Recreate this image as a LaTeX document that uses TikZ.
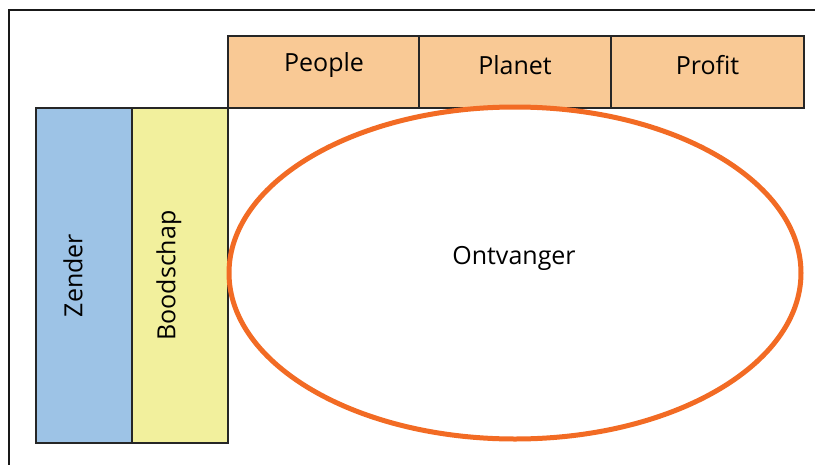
\documentclass[tikz,border=0pt]{standalone}
\usepackage{fontspec}
\setmainfont{Open Sans}
\begin{document}
\begin{tikzpicture}[x=1pt,y=-1pt,
  cell/.style={draw=black!85, line width=2pt, minimum width=#1, inner sep=0pt, anchor=north west},
  hcell/.style={cell=192pt, minimum height=72pt, fill=topfill},
  vcell/.style={draw=black!85, line width=2pt, inner sep=0pt, anchor=north west, minimum width=96pt, minimum height=335pt},
  lbl/.style={font=\fontsize{25}{30}\selectfont}]
\definecolor{topfill}{HTML}{F9C995}
\definecolor{blufill}{HTML}{9DC3E6}
\definecolor{yelfill}{HTML}{F2F09D}
\definecolor{ringcol}{HTML}{F26B24}
\useasboundingbox (0,0) rectangle (815,464);
% outer frame, only its top and left sides fall inside the page
\draw[line width=1.8pt, black!90] (9,470) -- (9,10) -- (820,10);
% the three top cells
\node[hcell] (people) at (227,35) {};
\node[hcell] (planet) at (418,35) {};
\node[hcell, minimum width=193pt] (profit) at (610,35) {};
\node[lbl] (tpeople) at ([yshift=7pt]people.center) {People};
\node[lbl] (tplanet) at ([yshift=7pt]planet.center) {Planet};
\node[lbl] (tprofit) at ([yshift=7pt]profit.center) {Profit};
% the two side cells, text turned upwards
\node[vcell, fill=blufill] (zender) at (35,107) {};
\node[vcell, fill=yelfill] (boodschap) at (131,107) {};
\node[lbl, rotate=90] (tzender) at ([xshift=-11pt]zender.center) {Zender};
\node[lbl, rotate=90] (tboodschap) at ([xshift=-11pt]boodschap.center) {Boodschap};
% receiver ellipse
\draw[ringcol, line width=5pt] (515,273) ellipse [x radius=286, y radius=166];
\node[lbl] (ontvanger) at (514,258) {Ontvanger};
\end{tikzpicture}
\end{document}
